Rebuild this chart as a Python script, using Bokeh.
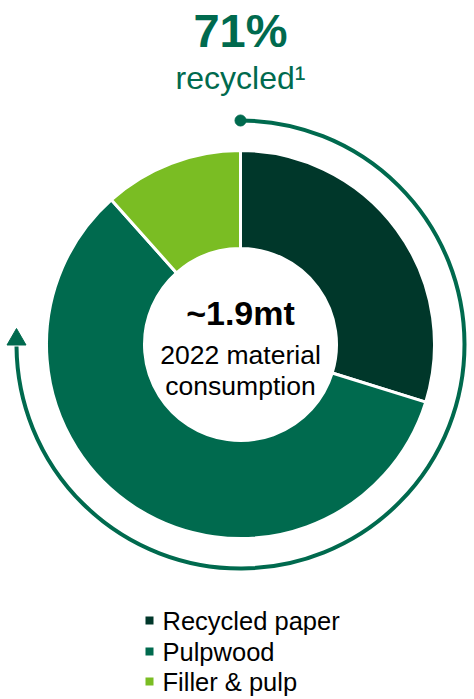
import math
from bokeh.plotting import figure
from bokeh.models import Range1d, ColumnDataSource
from bokeh.core.properties import value
from bokeh.embed import file_html
from bokeh.resources import INLINE

# ---- data ----
categories = ["Recycled paper", "Pulpwood", "Filler & pulp"]
shares = [29.8, 58.6, 11.6]
colors = ["#00372A", "#006A4E", "#7ABD23"]
headline_value = "71%"
headline_label = "recycled\u00b9"
center_value = "~1.9mt"
center_lines = ["2022 material", "consumption"]

W, H = 474, 699
GREEN = "#006A4E"

p = figure(width=W, height=H, x_range=Range1d(0, W), y_range=Range1d(0, H),
           output_backend="svg", toolbar_location=None, min_border=0)
p.axis.visible = False
p.grid.visible = False
p.outline_line_color = None
p.background_fill_color = "white"

cx, cy = 240, H - 344
r_out, r_in = 194, 96

# wedges, clockwise from 12 o'clock
starts, ends = [], []
a = 90.0
for s in shares:
    starts.append(math.radians(a))
    a -= s / 100 * 360
    ends.append(math.radians(a))
src = ColumnDataSource(dict(cat=categories, start=starts, end=ends, color=colors))
p.annular_wedge(x=cx, y=cy, inner_radius=r_in, outer_radius=r_out,
                start_angle="start", end_angle="end", direction="clock",
                fill_color="color", line_color="white", line_width=3, source=src)

# recycled arc annotation
r_arc = 224
arc_end = 90 - 269.5
p.arc(x=cx, y=cy, radius=r_arc, start_angle=math.radians(90), end_angle=math.radians(arc_end),
      direction="clock", line_color=GREEN, line_width=4)
p.scatter(x=[cx], y=[cy + r_arc], size=11, marker="circle", fill_color=GREEN, line_color=GREEN)
p.scatter(x=[cx - r_arc], y=[H - 339], size=19, marker="triangle", fill_color=GREEN, line_color=GREEN)

# headline
F = value("Liberation Sans")
p.text(x=[240], y=[H - 30], text=[headline_value], text_font=F, text_font_size="47px",
       text_font_style="bold", text_color=GREEN, text_align="center", text_baseline="middle")
p.text(x=[240], y=[H - 77], text=[headline_label], text_font=F, text_font_size="32px",
       text_color=GREEN, text_align="center", text_baseline="middle")

# center
p.text(x=[240], y=[H - 312], text=[center_value], text_font=F, text_font_size="34px",
       text_font_style="bold", text_color="black", text_align="center", text_baseline="middle")
p.text(x=[240, 240], y=[H - 354, H - 385], text=center_lines, text_font=F, text_font_size="26.5px",
       text_color="black", text_align="center", text_baseline="middle")

# legend
ly = [H - 620, H - 651, H - 681]
p.scatter(x=[149] * 3, y=ly, marker="square", size=8, fill_color=colors, line_color=None)
p.text(x=[162] * 3, y=ly, text=categories, text_font=F, text_font_size="25.5px",
       text_color="black", text_align="left", text_baseline="middle")

open("out.html", "w").write(file_html(p, INLINE))
